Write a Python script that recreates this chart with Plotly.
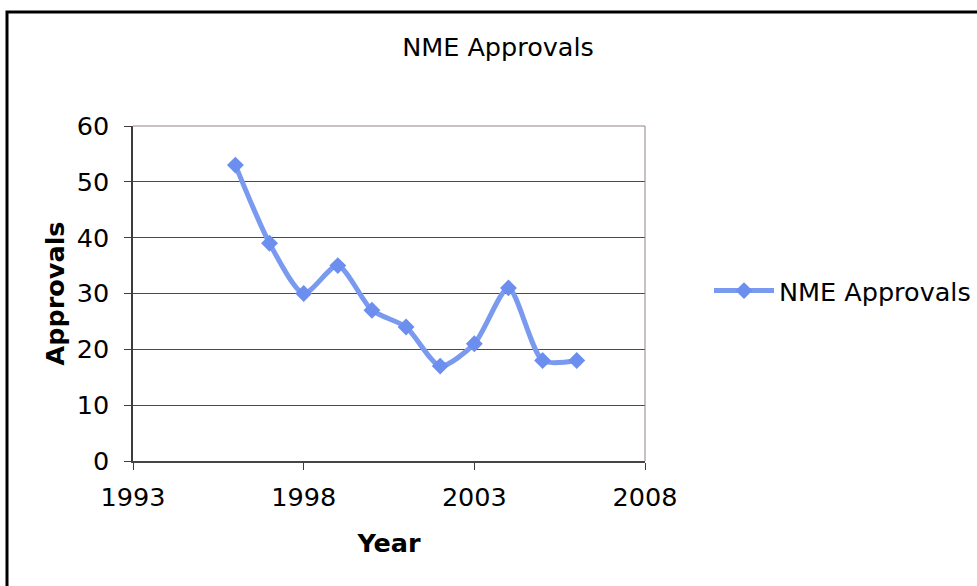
import plotly.graph_objects as go

# NME approvals per year
years = [1996, 1997, 1998, 1999, 2000, 2001, 2002, 2003, 2004, 2005, 2006]
approvals = [53, 39, 30, 35, 27, 24, 17, 21, 31, 18, 18]

x_ticks = [1993, 1998, 2003, 2008]
y_ticks = [0, 10, 20, 30, 40, 50, 60]

W, H = 977, 586
L, R, T, B = 133, 332, 126, 125
PW, PH = W - L - R, H - T - B

FONT = "Verdana, DejaVu Sans, sans-serif"
LINE_COLOR = "rgb(122,154,240)"
TICK_SIZE = 25.5


def px_x(px):
    return (px - L) / PW


def px_y(py):
    return (H - B - py) / PH


fig = go.Figure()
fig.add_trace(go.Scatter(
    x=years, y=approvals,
    mode="lines+markers",
    name="NME Approvals",
    line=dict(color=LINE_COLOR, width=5, shape="spline", smoothing=0.7),
    marker=dict(symbol="diamond", size=13, color="rgb(108,142,238)"),
))

fig.update_layout(
    width=W, height=H,
    margin=dict(l=L, r=R, t=T, b=B, autoexpand=False),
    paper_bgcolor="white",
    plot_bgcolor="white",
    font=dict(family=FONT, color="black", size=TICK_SIZE),
    title=dict(
        text="NME Approvals",
        font=dict(family=FONT, size=25.5, color="black"),
        x=498 / W, xref="container", xanchor="center",
        y=1 - 47 / H, yref="container", yanchor="middle",
    ),
    showlegend=True,
    legend=dict(
        x=px_x(709), y=px_y(291), xanchor="left", yanchor="middle",
        font=dict(family=FONT, size=TICK_SIZE, color="black"),
        bgcolor="rgba(0,0,0,0)",
        itemwidth=60,
    ),
    shapes=[
        # chart frame
        dict(type="rect", xref="paper", yref="paper",
             x0=px_x(7), x1=px_x(W + 20), y0=px_y(H + 20), y1=px_y(12),
             line=dict(color="black", width=3), layer="below"),
        # plot area outline (top and right)
        dict(type="line", xref="paper", yref="paper",
             x0=0, x1=1, y0=1, y1=1,
             line=dict(color="rgb(150,130,135)", width=1)),
        dict(type="line", xref="paper", yref="paper",
             x0=1, x1=1, y0=0, y1=1,
             line=dict(color="rgb(150,130,135)", width=1)),
    ],
)

fig.update_xaxes(
    range=[1993, 2008],
    tickmode="array", tickvals=x_ticks, ticktext=[str(v) for v in x_ticks],
    ticks="outside", ticklen=7, tickcolor="rgb(60,60,60)",
    ticklabelstandoff=5,
    showgrid=False, zeroline=False,
    showline=True, linecolor="rgb(70,70,70)", linewidth=2,
    tickfont=dict(family=FONT, size=TICK_SIZE, color="black"),
    title=dict(text="<b>Year</b>", font=dict(family=FONT, size=25.5, color="black"),
               standoff=24),
)

fig.update_yaxes(
    range=[0, 60],
    tickmode="array", tickvals=y_ticks, ticktext=[str(v) for v in y_ticks],
    ticks="outside", ticklen=7, tickcolor="rgb(60,60,60)",
    ticklabelstandoff=10,
    showgrid=True, gridcolor="rgb(75,75,75)", gridwidth=1,
    zeroline=False,
    showline=True, linecolor="rgb(60,60,60)", linewidth=1.5,
    tickfont=dict(family=FONT, size=TICK_SIZE, color="black"),
    title=dict(text="<b>Approvals</b>", font=dict(family=FONT, size=25.5, color="black"),
               standoff=5),
)

fig.write_html("out.html")
